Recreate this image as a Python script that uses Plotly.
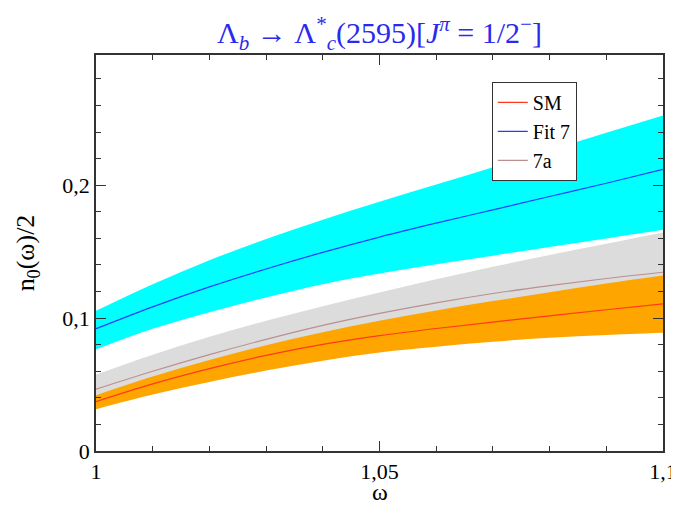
import plotly.graph_objects as go

omega = [1.00, 1.01, 1.02, 1.03, 1.04, 1.05, 1.06, 1.07, 1.08, 1.09, 1.10]

fit7 = [0.092, 0.1085, 0.1235, 0.137, 0.1495, 0.161, 0.1715, 0.1815, 0.1915, 0.2015, 0.212]
fit7_hi = [0.1055, 0.1255, 0.1435, 0.1595, 0.174, 0.1875, 0.2005, 0.2135, 0.2265, 0.2395, 0.2525]
fit7_lo = [0.0765, 0.092, 0.1045, 0.1155, 0.1255, 0.1335, 0.1405, 0.147, 0.1535, 0.160, 0.1665]

f7a = [0.0465, 0.060, 0.0725, 0.084, 0.0945, 0.1035, 0.1115, 0.1185, 0.1245, 0.1298, 0.1345]
f7a_hi = [0.0575, 0.0725, 0.086, 0.098, 0.109, 0.1193, 0.1292, 0.1386, 0.1475, 0.156, 0.1645]
f7a_lo = [0.036, 0.048, 0.059, 0.069, 0.078, 0.085, 0.091, 0.096, 0.100, 0.104, 0.108]

sm = [0.0372, 0.0505, 0.062, 0.072, 0.0802, 0.0868, 0.0922, 0.097, 0.1017, 0.1063, 0.1107]
sm_hi = [0.042, 0.056, 0.0685, 0.0795, 0.0893, 0.098, 0.1058, 0.1128, 0.1195, 0.126, 0.132]
sm_lo = [0.0315, 0.0425, 0.052, 0.0605, 0.068, 0.0742, 0.0785, 0.0822, 0.0852, 0.0873, 0.089]

x_ticks = [1.0, 1.05, 1.1]
x_labels = ["1", "1,05", "1,1"]
y_ticks = [0.0, 0.1, 0.2]
y_labels = ["0", "0,1", "0,2"]

SERIF = "Liberation Serif, DejaVu Serif, serif"

fig = go.Figure()

def band(lo, hi, color):
    fig.add_trace(go.Scatter(x=omega, y=lo, mode="lines", line=dict(width=0, shape="spline", color=color),
                             showlegend=False, hoverinfo="skip"))
    fig.add_trace(go.Scatter(x=omega, y=hi, mode="lines", line=dict(width=0, shape="spline", color=color),
                             fill="tonexty", fillcolor=color, showlegend=False, hoverinfo="skip"))

band(fit7_lo, fit7_hi, "#00FFFF")
band(f7a_lo, f7a_hi, "#DCDCDC")
band(sm_lo, sm_hi, "#FFA500")

fig.add_trace(go.Scatter(x=omega, y=sm, mode="lines", name="SM",
                         line=dict(color="#FF3A1A", width=1.2, shape="spline")))
fig.add_trace(go.Scatter(x=omega, y=fit7, mode="lines", name="Fit 7",
                         line=dict(color="#2040FF", width=1.2, shape="spline")))
fig.add_trace(go.Scatter(x=omega, y=f7a, mode="lines", name="7a",
                         line=dict(color="#BC8F8F", width=1.2, shape="spline")))

axis_common = dict(
    showgrid=False, zeroline=False, showline=True, linecolor="#333333", linewidth=1.5,
    mirror="ticks", ticks="inside", ticklen=10, tickwidth=1.2, tickcolor="#333333",
    tickfont=dict(family=SERIF, size=22, color="black"), automargin=False,
)

# the page body adds an 8px offset, so the figure is sized to fit the 679x505 window
fig.update_layout(
    width=671, height=497,
    margin=dict(l=88, r=16, t=47, b=54),
    paper_bgcolor="white", plot_bgcolor="white",
    title=dict(
        text="Λ<sub><i>b</i></sub> → Λ<sup>*</sup><sub><i>c</i></sub>(2595)[<i>J</i><sup><i>π</i></sup> = 1/2<sup>−</sup>]",
        x=0.5, xanchor="center", xref="paper", y=0.95, yanchor="middle",
        font=dict(family=SERIF, size=30, color="#2a2aee"),
    ),
    xaxis=dict(
        range=[1.0, 1.1], tickvals=x_ticks, ticktext=x_labels,
        minor=dict(dtick=0.01, ticks="inside", ticklen=5, tickcolor="#333333", tickwidth=1),
        **axis_common,
    ),
    yaxis=dict(
        range=[0.0, 0.298], tickvals=y_ticks, ticktext=y_labels,
        minor=dict(dtick=0.02, ticks="inside", ticklen=5, tickcolor="#333333", tickwidth=1),
        title=dict(text="n<sub>0</sub>(ω)/2", font=dict(family=SERIF, size=26, color="black"), standoff=20),
        **axis_common,
    ),
    legend=dict(
        x=0.698, y=0.932, xanchor="left", yanchor="top",
        bgcolor="white", bordercolor="#333333", borderwidth=1,
        font=dict(family=SERIF, size=20, color="black"),
        itemwidth=30, tracegroupgap=0, traceorder="normal",
    ),
    annotations=[dict(
        text="ω", xref="paper", yref="paper", x=0.5, y=-0.103,
        xanchor="center", yanchor="middle", showarrow=False,
        font=dict(family=SERIF, size=24, color="black"),
    )],
    showlegend=True,
)

fig.write_html("out.html")
